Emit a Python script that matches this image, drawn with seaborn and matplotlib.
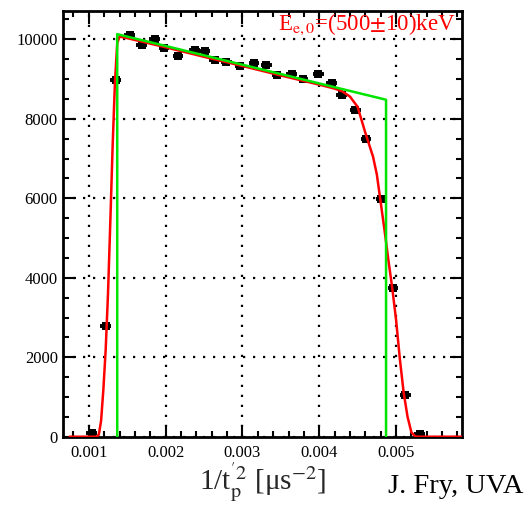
import numpy as np
import pandas as pd
import matplotlib
matplotlib.use("Agg")
import matplotlib.pyplot as plt
import seaborn as sns
from matplotlib.ticker import MultipleLocator

# Data points (black squares)
x_data = [0.00104, 0.00122, 0.00135, 0.00153, 0.00169, 0.00186, 0.00198, 0.00216,
          0.00238, 0.00251, 0.00264, 0.00279, 0.00297, 0.00315, 0.00331, 0.00345,
          0.00364, 0.00379, 0.00399, 0.00416, 0.00429, 0.00447, 0.00461, 0.00481,
          0.00496, 0.00512, 0.00531]
y_data = [100, 2780, 8980, 10110, 9860, 10010, 9780, 9590,
          9720, 9710, 9480, 9430, 9330, 9400, 9350, 9090,
          9120, 9000, 9120, 8890, 8600, 8220, 7480, 5970,
          3740, 1050, 70]
x_err = 0.00007

# Green model (sharp)
x_green = [0.00137, 0.00137, 0.00487, 0.00487]
y_green = [0, 10130, 8480, 0]

# Red fit (smeared model)
x_red = [0.00075, 0.00110, 0.00113, 0.00116, 0.00119, 0.00122, 0.00125, 0.00128,
         0.00131, 0.00134, 0.00137, 0.00140, 0.00150, 0.00200, 0.00250, 0.00300,
         0.00350, 0.00400, 0.00420, 0.00430, 0.00440, 0.00450, 0.00460, 0.00470,
         0.00475, 0.00480, 0.00485, 0.00490, 0.00495, 0.00500, 0.00505, 0.00510,
         0.00515, 0.00520, 0.00525, 0.00530, 0.00585]
y_red = [0, 0, 50, 400, 1200, 2200, 3600, 5400,
         7300, 8900, 9900, 10070, 10030, 9800, 9560, 9330,
         9090, 8860, 8760, 8690, 8560, 8300, 7650, 7050,
         6600, 5900, 5200, 4450, 3750, 2950, 1950, 1100,
         500, 110, 10, 0, 0]

x_ticks = [0.001, 0.002, 0.003, 0.004, 0.005]
x_ticklabels = ["0.001", "0.002", "0.003", "0.004", "0.005"]
y_ticks = [0, 2000, 4000, 6000, 8000, 10000]
y_ticklabels = ["0", "2000", "4000", "6000", "8000", "10000"]

sns.set_style("ticks")
plt.rcParams['font.family'] = ['Liberation Serif', 'DejaVu Serif']
plt.rcParams['mathtext.fontset'] = 'stix'

fig = plt.figure(figsize=(5.29, 5.05), dpi=100)
ax = fig.add_axes([0.1185, 0.1352, 0.7543, 0.8428])

df_pts = pd.DataFrame({"x": x_data, "y": y_data})
df_green = pd.DataFrame({"x": x_green, "y": y_green})
df_red = pd.DataFrame({"x": x_red, "y": y_red})

ax.errorbar(df_pts["x"], df_pts["y"], xerr=x_err, fmt='none', ecolor='black',
            elinewidth=2.8, capsize=0, zorder=4)
sns.scatterplot(data=df_pts, x="x", y="y", marker='s', s=32, color='black',
                edgecolor='black', linewidth=0, ax=ax, zorder=5)
sns.lineplot(data=df_red, x="x", y="y", color='#ff0000', lw=1.8, ax=ax,
             sort=False, estimator=None, zorder=6)
sns.lineplot(data=df_green, x="x", y="y", color='#00e600', lw=1.8, ax=ax,
             sort=False, estimator=None, zorder=7)

ax.set_xlim(0.00066, 0.005855)
ax.set_ylim(0, 10710)
ax.set_xticks(x_ticks)
ax.set_xticklabels(x_ticklabels)
ax.set_yticks(y_ticks)
ax.set_yticklabels(y_ticklabels)
ax.xaxis.set_minor_locator(MultipleLocator(0.0002))
ax.yaxis.set_minor_locator(MultipleLocator(500))
ax.tick_params(which='both', direction='in', top=True, right=True,
               labelsize=12, width=1.5, colors='black')
ax.tick_params(which='major', length=9)
ax.tick_params(which='minor', length=4.5)
ax.tick_params(axis='x', pad=6)
for sp in ax.spines.values():
    sp.set_linewidth(2)
    sp.set_color('black')

ax.grid(True, which='major', color='black', linestyle=(0, (1, 3.5)), linewidth=1.6)

ax.set_ylabel("")
ax.set_xlabel(r"1/t$_{\mathrm{p}}^{\mathrm{'2}}$ [μs$^{\mathrm{-2}}$]", fontsize=21, labelpad=-1)

ax.text(0.985, 0.998, r"E$_{\mathrm{e,0}}$=(500$\pm$10)keV", transform=ax.transAxes,
        ha='right', va='top', color='#ff0000', fontsize=16.5, zorder=8)

fig.text(0.733, 0.012, "J. Fry, UVA", fontsize=20.5, ha='left', va='bottom', color='black')

fig.savefig("out.png", dpi=100)
